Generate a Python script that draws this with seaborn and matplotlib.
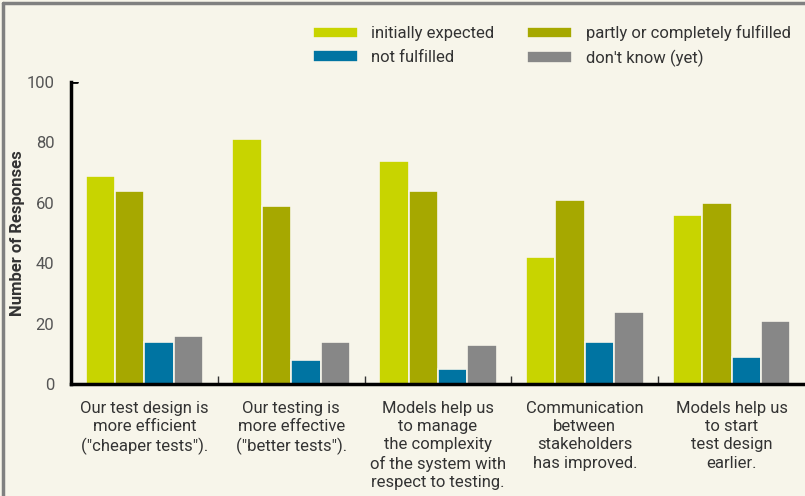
import pandas as pd
import numpy as np
import matplotlib
matplotlib.use("Agg")
import matplotlib.pyplot as plt
import seaborn as sns

# data
statements = [
    'Our test design is\nmore efficient\n("cheaper tests").',
    'Our testing is\nmore effective\n("better tests").',
    'Models help us\nto manage\nthe complexity\nof the system with\nrespect to testing.',
    'Communication\nbetween\nstakeholders\nhas improved.',
    'Models help us\nto start\ntest design\nearlier.',
]
series = ["initially expected", "partly or completely fulfilled",
          "not fulfilled", "don't know (yet)"]
initially_expected = [69, 81, 74, 42, 56]
partly_fulfilled = [64, 59, 64, 61, 60]
not_fulfilled = [14, 8, 5, 14, 9]
dont_know = [16, 14, 13, 24, 21]
colors = ["#c8d400", "#a6a800", "#0074a2", "#878787"]

rows = []
for name, vals in zip(series, [initially_expected, partly_fulfilled, not_fulfilled, dont_know]):
    for s, v in zip(statements, vals):
        rows.append({"statement": s, "status": name, "count": v})
df = pd.DataFrame(rows)

bg = "#f7f5ea"
sns.set_theme(style="white")
plt.rcParams["font.family"] = ["Roboto", "DejaVu Sans"]

fig = plt.figure(figsize=(8.05, 4.96), dpi=100, facecolor=bg)
ax = fig.add_axes([0.0882, 0.2258, 0.9118, 0.6089])
ax.set_facecolor(bg)

sns.barplot(data=df, x="statement", y="count", hue="status", hue_order=series,
            palette=colors, saturation=1, width=0.8, edgecolor=bg, linewidth=1.2,
            legend=True, ax=ax)

ax.set_xlim(-0.5, 4.5)
ax.set_ylim(0, 100)
ax.set_yticks([0, 20, 40, 60, 80, 100])
ax.tick_params(axis="y", length=0, pad=12, labelsize=12, labelcolor="#555555")
ax.tick_params(axis="x", which="major", length=0, pad=12, labelsize=12, labelcolor="#333333")
for lbl in ax.get_xticklabels():
    lbl.set_linespacing(1.28)
    lbl.set_verticalalignment("top")
ax.set_xticks([0.5, 1.5, 2.5, 3.5], minor=True)
ax.tick_params(axis="x", which="minor", direction="in", length=6, width=1, color="#333333", bottom=True)
ax.axhline(100, xmin=0, xmax=0.008, color="black", lw=2)

ax.set_xlabel("")
ax.set_ylabel("Number of Responses", fontweight="bold", fontsize=12, color="#333333")
ax.yaxis.set_label_coords(-0.062, 0.5)

for side in ["top", "right"]:
    ax.spines[side].set_visible(False)
for side in ["left", "bottom"]:
    ax.spines[side].set_color("black")
    ax.spines[side].set_linewidth(2.5)

# legend filled row by row like the reference
handles, labels = ax.get_legend_handles_labels()
order = [0, 2, 1, 3]
ax.legend([handles[i] for i in order], [labels[i] for i in order],
          ncol=2, loc="upper left", bbox_to_anchor=(0.378, 0.966),
          bbox_transform=fig.transFigure, frameon=False, fontsize=12, borderpad=0,
          handlelength=2.7, handleheight=0.7, handletextpad=0.8,
          columnspacing=2.0, labelspacing=0.5, labelcolor="#333333")

# frame around the picture
fig.add_artist(plt.Line2D([0.004, 0.004], [0, 0.994], transform=fig.transFigure, color="#808080", lw=2.5))
fig.add_artist(plt.Line2D([0.004, 1], [0.994, 0.994], transform=fig.transFigure, color="#808080", lw=2.5))

fig.savefig("out.png", dpi=100, facecolor=bg)
